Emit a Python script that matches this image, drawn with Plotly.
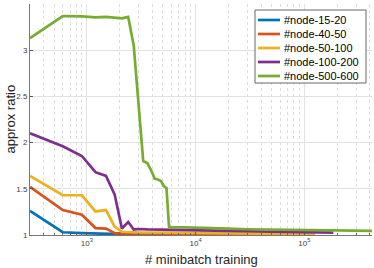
import plotly.graph_objects as go

names = ["#node-15-20", "#node-40-50", "#node-50-100", "#node-100-200", "#node-500-600"]
colors = ["#0072BD", "#D95319", "#EDB120", "#7E2F8E", "#77AC30"]

x_blue = [300, 600, 900, 1200, 1500, 1800, 2100, 2400, 3000, 5000, 10000, 20000, 32000]
y_blue = [1.26, 1.03, 1.02, 1.015, 1.01, 1.006, 1.004, 1.003, 1.003, 1.003, 1.003, 1.003, 1.003]

x_orange = [300, 600, 900, 1200, 1500, 1800, 2100, 2400, 3000, 5000, 10000, 30000, 67000]
y_orange = [1.52, 1.27, 1.22, 1.075, 1.07, 1.02, 1.017, 1.015, 1.014, 1.012, 1.01, 1.008, 1.006]

x_yellow = [300, 600, 900, 1200, 1500, 1800, 2100, 2400, 3000, 5000, 10000, 30000, 60000, 126000]
y_yellow = [1.64, 1.43, 1.43, 1.255, 1.27, 1.09, 1.035, 1.03, 1.028, 1.025, 1.02, 1.015, 1.012, 1.01]

x_purple = [300, 600, 900, 1200, 1500, 1800, 2100, 2400, 2700, 3000, 3600, 5000, 10000, 20000, 50000, 100000, 185000]
y_purple = [2.10, 1.96, 1.855, 1.68, 1.64, 1.44, 1.07, 1.14, 1.06, 1.065, 1.06, 1.058, 1.055, 1.045, 1.035, 1.03, 1.025]

x_green = [300, 600, 900, 1200, 1500, 1800, 2100, 2400, 2700, 3300, 3600, 3900, 4200, 4500, 4800, 5100, 5400, 5700,
           6000, 8000, 10000, 15000, 20000, 30000, 50000, 70000, 100000, 150000, 200000, 300000, 420000]
y_green = [3.13, 3.37, 3.365, 3.355, 3.36, 3.35, 3.345, 3.36, 3.05, 1.80, 1.78, 1.70, 1.61, 1.60, 1.585, 1.53, 1.51, 1.09,
           1.085, 1.083, 1.078, 1.075, 1.068, 1.062, 1.058, 1.055, 1.052, 1.05, 1.048, 1.046, 1.045]

xs = [x_blue, x_orange, x_yellow, x_purple, x_green]
ys = [y_blue, y_orange, y_yellow, y_purple, y_green]

x_tickvals = [1000, 10000, 100000]
x_ticktext = ["10<sup>3</sup>", "10<sup>4</sup>", "10<sup>5</sup>"]
y_tickvals = [1, 1.5, 2, 2.5, 3, 3.5]
y_ticktext = ["1", "1.5", "2", "2.5", "3", "3.5"]
x_minor = [k * 10 ** d for d in range(2, 6) for k in range(2, 10)]

# plot-area geometry (pixels)
W_FIG, H_FIG = 374, 268
L, R, T, B = 30, 372, 4, 235
PW, PH = R - L, B - T


def px(xp):
    return (xp - L) / PW


def py(yp):
    return (B - yp) / PH


fig = go.Figure()
for n, c, x, y in zip(names, colors, xs, ys):
    fig.add_trace(go.Scatter(x=x, y=y, mode="lines", name=n,
                             line=dict(color=c, width=2.7), showlegend=False,
                             hoverinfo="skip"))

font = "Liberation Sans, Arial, Helvetica, sans-serif"

# custom legend (MATLAB style, compact)
shapes = [dict(type="rect", xref="paper", yref="paper",
               x0=px(255), x1=px(366), y0=py(83), y1=py(10),
               line=dict(color="#666666", width=1), fillcolor="white", layer="above")]
annotations = []
for i, (n, c) in enumerate(zip(names, colors)):
    yc = 20 + i * 14
    shapes.append(dict(type="line", xref="paper", yref="paper",
                       x0=px(258), x1=px(280), y0=py(yc), y1=py(yc),
                       line=dict(color=c, width=2.7), layer="above"))
    annotations.append(dict(text=n, xref="paper", yref="paper", x=px(282), y=py(yc),
                            xanchor="left", yanchor="middle", showarrow=False,
                            font=dict(size=11, color="#000000", family=font)))

annotations.append(dict(text="# minibatch training", xref="paper", yref="paper",
                        x=0.5, y=py(259), xanchor="center", yanchor="middle", showarrow=False,
                        font=dict(size=13, color="#262626", family=font)))
annotations.append(dict(text="approx ratio", xref="paper", yref="paper",
                        x=px(10), y=0.5, xanchor="center", yanchor="middle", showarrow=False,
                        textangle=-90, font=dict(size=13, color="#262626", family=font)))

fig.update_layout(
    width=W_FIG, height=H_FIG,
    margin=dict(l=L, r=W_FIG - R, t=T, b=H_FIG - B, autoexpand=False),
    paper_bgcolor="white", plot_bgcolor="white",
    font=dict(family=font, color="#262626"),
    showlegend=False,
    hovermode=False,
    shapes=shapes,
    annotations=annotations,
    xaxis=dict(type="log", range=[2.477, 5.623],
               tickmode="array", tickvals=x_tickvals, ticktext=x_ticktext,
               tickfont=dict(size=8, color="#404040"),
               showgrid=True, gridcolor="#e2e2e2", gridwidth=1,
               minor=dict(tickmode="array", tickvals=x_minor, showgrid=True,
                          gridcolor="#dcdcdc", griddash="dot", gridwidth=1,
                          ticks="inside", ticklen=2, tickcolor="#666666"),
               ticks="inside", ticklen=3, tickcolor="#555555",
               showline=True, linecolor="#777777", linewidth=1,
               zeroline=False, automargin=False),
    yaxis=dict(range=[1, 3.5],
               tickmode="array", tickvals=y_tickvals, ticktext=y_ticktext,
               tickfont=dict(size=8, color="#404040"),
               showgrid=True, gridcolor="#e2e2e2", gridwidth=1,
               ticks="inside", ticklen=3, tickcolor="#555555",
               showline=True, linecolor="#777777", linewidth=1,
               zeroline=False, automargin=False),
)

fig.write_html("out.html", config={"displayModeBar": False, "staticPlot": True},
               post_script="document.body.style.margin='0';document.body.style.padding='0';")
